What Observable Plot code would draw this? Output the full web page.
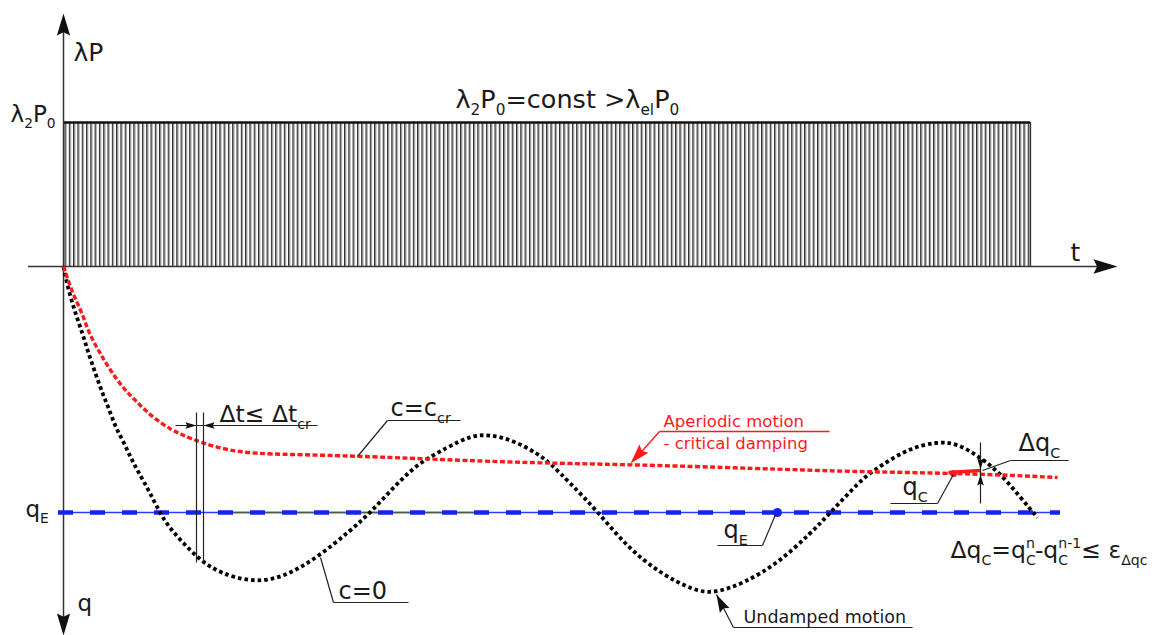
<!DOCTYPE html>
<html><head><meta charset="utf-8">
<script src="https://cdn.jsdelivr.net/npm/d3@7"></script>
<script src="https://cdn.jsdelivr.net/npm/@observablehq/plot@0.6"></script>
<style>body{margin:0;background:#fff;} svg{display:block;}</style>
</head><body><div id="chart"></div>
<script>
// ---- data (t in time steps; value: load λP upward, displacement q downward = negative) ----
const loadLevel = 14.4;      // λ2P0
const loadEnd = 96.7;        // end of constant load
const qE = -24.6;            // equilibrium displacement
const qEStart = -0.5, qEEnd = 99.7;

const undampedT = [0,0.5,1.2,1.9,2.5,3.2,3.9,4.5,5.2,6.0,6.7,7.4,8.7,10.0,11.7,13.7,15.7,19.0,22.0,25.4,28.7,30.7,33.0,35.4,38.4,40.7,42.7,45.0,47.4,48.7,50.7,53.4,56.4,59.7,63.0,65.0,68.0,71.4,74.7,76.7,79.7,81.0,84.4,87.4,89.4,91.7,93.7,95.7,97.4];
const undampedQ = [0,-2.4,-4.7,-6.7,-8.7,-10.7,-12.7,-14.1,-16.1,-17.5,-19.1,-20.4,-22.7,-25.4,-27.4,-29.4,-30.7,-31.6,-31.1,-29.1,-26.4,-24.6,-22.1,-19.7,-18.1,-16.9,-16.8,-17.4,-18.7,-19.7,-21.7,-24.5,-28.1,-30.7,-32.4,-32.7,-31.7,-29.7,-26.7,-24.6,-21.4,-20.4,-18.2,-17.5,-17.7,-19.1,-20.7,-23.1,-25.1];

const criticalT = [0,0.9,1.9,2.5,3.5,4.5,5.9,7.2,8.9,10.9,12.0,13.7,16.5,19.2,22.5,27.5,35.4,45.0,56.4,69.7,78.0,91.0,99.4];
const criticalQ = [0,-2.7,-4.7,-6.6,-8.4,-10.1,-12.1,-13.4,-15.1,-16.4,-16.9,-17.6,-18.4,-18.7,-18.8,-18.9,-19.2,-19.6,-19.8,-20.2,-20.5,-20.7,-21.1];

const qCt = 89.0, qCv = -20.7;     // converged qC point
const qEmarkT = 71.4;              // qE marker

// ---- text labels ----
const labels = [
  {x:1.0,  y:20.6,  text:"λP", size:25},
  {x:-5.3, y:14.5,  text:"λ_{2}P_{0}", size:23},
  {x:39.2, y:15.9,  text:"λ_{2}P_{0}=const >λ_{el}P_{0}", size:25.5},
  {x:100.7,y:0.6,   text:"t", size:25},
  {x:-3.8, y:-25.0, text:"q_{E}", size:23},
  {x:1.4,  y:-34.4, text:"q", size:23},
  {x:15.6, y:-15.5, text:"Δt≤ Δt_{cr}", size:23.5},
  {x:32.7, y:-14.9, text:"c=c_{cr}", size:24},
  {x:27.5, y:-33.2, text:"c=0", size:24},
  {x:68.0, y:-35.6, text:"Undamped motion", size:17.5},
  {x:66.0, y:-27.1, text:"q_{E}", size:24},
  {x:83.9, y:-22.8, text:"q_{C}", size:24},
  {x:95.5, y:-18.4, text:"Δq_{C}", size:24},
  {x:88.7, y:-29.1, text:"Δq_{C}=q_{C}~{n}-q_{C}~{n-1}≤ ε_{Δqc}", size:23.5}
];
const redLabels = [
  {x:60.0, y:-16.0, text:"Aperiodic motion", size:16.5},
  {x:60.0, y:-18.2, text:"- critical damping", size:16.5}
];

// leader lines / annotation rules
const leaders = [
  {x1:32.4,y1:-15.4,x2:39.7,y2:-15.4},{x1:32.4,y1:-15.4,x2:29.4,y2:-19.0},
  {x1:27.0,y1:-33.6,x2:34.5,y2:-33.6},{x1:27.0,y1:-33.6,x2:25.7,y2:-29.1},
  {x1:11.2,y1:-15.9,x2:25.4,y2:-15.9},
  {x1:13.3,y1:-14.6,x2:13.3,y2:-29.6},{x1:14.0,y1:-14.6,x2:14.0,y2:-29.6},
  {x1:67.0,y1:-36.1,x2:84.9,y2:-36.1},{x1:67.0,y1:-36.1,x2:65.3,y2:-32.8},
  {x1:65.4,y1:-27.9,x2:69.9,y2:-27.9},{x1:69.9,y1:-27.9,x2:71.2,y2:-24.8},
  {x1:82.7,y1:-23.7,x2:87.4,y2:-23.7},{x1:87.4,y1:-23.7,x2:89.0,y2:-20.8},
  {x1:91.7,y1:-17.6,x2:91.7,y2:-23.7},
  {x1:94.7,y1:-19.4,x2:100.5,y2:-19.4},{x1:94.7,y1:-19.4,x2:91.9,y2:-20.4}
];
const redLeaders = [
  {x1:59.6,y1:-16.5,x2:76.6,y2:-16.5},{x1:59.6,y1:-16.5,x2:57.2,y2:-19.2}
];
const heads = [
  {x:0, y:25.3, r:22, rot:0, c:"#111"},
  {x:0, y:-36.9, r:22, rot:180, c:"#111"},
  {x:105.4, y:0, r:24, rot:90, c:"#111"},
  {x:13.3, y:-15.9, r:11, rot:90, c:"#111"},
  {x:14.0, y:-15.9, r:11, rot:270, c:"#111"},
  {x:65.3, y:-32.8, r:18, rot:333, c:"#111"},
  {x:91.7, y:-20.3, r:11, rot:180, c:"#111"},
  {x:91.7, y:-20.8, r:11, rot:0, c:"#111"},
  {x:56.7, y:-19.7, r:20, rot:222, c:"#ff1a1a"}
];

const arrowHead = {draw(ctx, size){ const L = Math.sqrt(size/Math.PI), w = L*0.3;
  ctx.moveTo(0,0); ctx.lineTo(w,L); ctx.lineTo(0,L*0.85); ctx.lineTo(-w,L); ctx.closePath(); }};

const font = "DejaVu Sans";
const undamped = undampedT.map((t,i)=>({t, q: undampedQ[i]}));
const critical = criticalT.map((t,i)=>({t, q: criticalQ[i]}));

const chart = Plot.plot({
  width: 1162, height: 635,
  margin: 0,
  x: {domain: [-6.3, 109.9], axis: null},
  y: {domain: [-36.9, 26.6], axis: null},
  style: {background: "#fff"},
  marks: [
    Plot.rect([{}], {x1: 0, x2: loadEnd, y1: 0, y2: loadLevel, fill: "url(#hatch)"}),
    Plot.ruleY([loadLevel], {x1: 0, x2: loadEnd, stroke: "#111", strokeWidth: 2.6}),
    Plot.ruleX([loadEnd], {y1: 0, y2: loadLevel, stroke: "#333", strokeWidth: 1.3}),
    Plot.ruleY([0], {x1: -3.5, x2: 104, stroke: "#333", strokeWidth: 1.5}),
    Plot.ruleX([0], {y1: -35.5, y2: 24, stroke: "#333", strokeWidth: 1.5}),
    Plot.ruleY([qE], {x1: qEStart, x2: qEEnd, stroke: "#2b3cff", strokeWidth: 1.5}),
    Plot.ruleY([qE], {x1: 15.4, x2: 41.9, stroke: "#555", strokeWidth: 1.5}),
    Plot.ruleY([qE], {x1: qEStart, x2: qEEnd, stroke: "#1424f0", strokeWidth: 4.5, strokeDasharray: "15,17"}),
    Plot.line(undamped, {x: "t", y: "q", curve: "basis", stroke: "#000", strokeWidth: 3.8, strokeDasharray: "3.6,3", strokeLinecap: "butt", strokeLinejoin: "miter"}),
    Plot.line(critical, {x: "t", y: "q", curve: "basis", stroke: "#ff1a1a", strokeWidth: 3.4, strokeDasharray: "5,2.5", strokeLinecap: "butt", strokeLinejoin: "miter"}),
    Plot.link([{x1: 88.5, y1: -20.6, x2: 91.7, y2: -20.4}], {x1:"x1", y1:"y1", x2:"x2", y2:"y2", stroke: "#ff1a1a", strokeWidth: 3.5}),
    Plot.dot([{x: qCt, y: qCv}], {x: "x", y: "y", r: 3.5, fill: "#ff1a1a"}),
    Plot.dot([{x: qEmarkT, y: qE}], {x: "x", y: "y", r: 4.5, fill: "#1424f0"}),
    Plot.link(leaders, {x1:"x1", y1:"y1", x2:"x2", y2:"y2", stroke: "#222", strokeWidth: 1.2}),
    Plot.link(redLeaders, {x1:"x1", y1:"y1", x2:"x2", y2:"y2", stroke: "#ff1a1a", strokeWidth: 1.4}),
    ...heads.map(h => Plot.dot([h], {x: "x", y: "y", r: h.r, rotate: h.rot, symbol: arrowHead, fill: h.c, stroke: "none"})),
    ...labels.map(l => Plot.text([l], {x: "x", y: "y", text: "text", fontSize: l.size, fontFamily: font, textAnchor: "start", lineAnchor: "bottom", fill: "#1a1a1a"})),
    ...redLabels.map(l => Plot.text([l], {x: "x", y: "y", text: "text", fontSize: l.size, fontFamily: font, textAnchor: "start", lineAnchor: "bottom", fill: "#ff1a1a"}))
  ]
});

const ns = "http://www.w3.org/2000/svg";
const defs = document.createElementNS(ns, "defs");
defs.innerHTML = '<pattern id="hatch" patternUnits="userSpaceOnUse" width="4.3" height="8"><rect width="4.3" height="8" fill="#ffffff"/><rect width="1.4" height="8" fill="#2a2a2a"/><rect x="1.4" width="0.9" height="8" fill="#a8a8a8"/></pattern>';
chart.prepend(defs);
document.getElementById("chart").appendChild(chart);

// rich text: _{sub}, ^{sup}, ~{sup stacked over previous sub}
chart.querySelectorAll("text").forEach(t => {
  const s = t.textContent;
  if (!/[_^~]\{/.test(s)) return;
  const fs = parseFloat(getComputedStyle(t).fontSize);
  t.textContent = "";
  const re = /([_^~])\{([^}]*)\}/g;
  let last = 0, m, shift = 0, lastSub = null;
  const add = (txt, kind) => {
    const ts = document.createElementNS(ns, "tspan");
    ts.textContent = txt;
    const target = kind === "_" ? 0.3*fs : (kind === "^" || kind === "~") ? -0.42*fs : 0;
    const dy = target - shift;
    if (dy) ts.setAttribute("dy", dy);
    shift = target;
    if (kind) ts.setAttribute("font-size", 0.6*fs);
    if (kind === "~" && lastSub) ts.setAttribute("dx", -lastSub.getComputedTextLength());
    t.appendChild(ts);
    if (kind === "_") lastSub = ts;
  };
  while ((m = re.exec(s))) {
    if (m.index > last) add(s.slice(last, m.index), "");
    add(m[2], m[1]);
    last = re.lastIndex;
  }
  if (last < s.length) add(s.slice(last), "");
});
</script>
</body></html>
